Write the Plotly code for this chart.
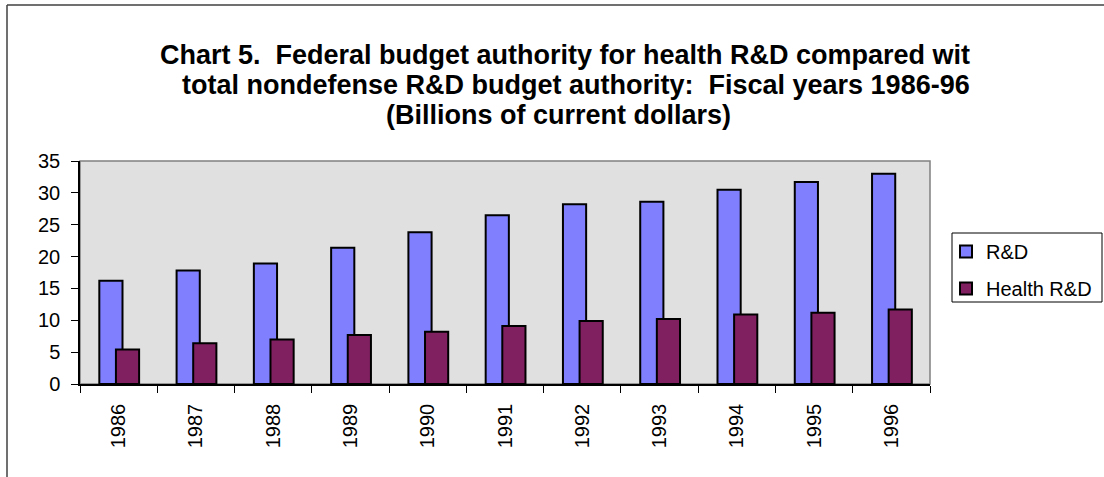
import plotly.graph_objects as go

years = ["1986", "1987", "1988", "1989", "1990", "1991",
         "1992", "1993", "1994", "1995", "1996"]
rd_total = [16.2, 17.8, 18.9, 21.4, 23.8, 26.5, 28.2, 28.6, 30.5, 31.7, 33.0]
rd_health = [5.4, 6.4, 7.0, 7.7, 8.2, 9.1, 9.9, 10.2, 10.9, 11.2, 11.7]

title_lines = [
    "Chart 5.  Federal budget authority for health R&D compared wit",
    "total nondefense R&D budget authority:  Fiscal years 1986-96",
    "(Billions of current dollars)",
]

FONT = "Liberation Sans, Arial, sans-serif"
W, H = 1104, 477
L, R, T, B = 80, 930, 161, 384   # plot-area edges in pixels


def px_x(p):
    return (p - L) / (R - L)


def px_y(p):
    return (B - p) / (B - T)


fig = go.Figure()
fig.add_trace(go.Bar(
    x=years, y=rd_total, name="R&D",
    width=0.3, offset=-0.25,
    marker=dict(color="#8080FF", line=dict(color="black", width=2)),
    legendgroup="a",
))
fig.add_trace(go.Bar(
    x=years, y=rd_health, name="Health R&D",
    width=0.3, offset=-0.035,
    marker=dict(color="#802060", line=dict(color="black", width=2)),
    legendgroup="b",
))

annotations = [
    dict(text="<b>" + title_lines[0] + "</b>", x=px_x(972), y=px_y(55),
         xanchor="right", yanchor="middle"),
    dict(text="<b>" + title_lines[1] + "</b>", x=px_x(972), y=px_y(85),
         xanchor="right", yanchor="middle"),
    dict(text="<b>" + title_lines[2] + "</b>", x=px_x(558), y=px_y(115),
         xanchor="center", yanchor="middle"),
]
for a in annotations:
    a.update(xref="paper", yref="paper", showarrow=False,
             font=dict(family=FONT, size=27, color="black"))

shapes = [
    # grey frame of the plot area
    dict(type="rect", xref="paper", yref="paper", x0=0, x1=1, y0=0, y1=1,
         line=dict(color="#808080", width=1.5), layer="below"),
    # legend frame
    dict(type="rect", xref="paper", yref="paper",
         x0=px_x(952), x1=px_x(1102), y0=px_y(302), y1=px_y(233),
         line=dict(color="black", width=1), fillcolor="white"),
    # outer chart border (top and left edges)
    dict(type="line", xref="paper", yref="paper",
         x0=px_x(7), x1=px_x(W + 5), y0=px_y(5), y1=px_y(5),
         line=dict(color="#404040", width=1.5)),
    dict(type="line", xref="paper", yref="paper",
         x0=px_x(7), x1=px_x(7), y0=px_y(5), y1=px_y(H + 5),
         line=dict(color="#404040", width=1.5)),
]

n = len(years)
fig.update_layout(
    width=W, height=H,
    margin=dict(l=L, r=W - R, t=T, b=H - B, autoexpand=False),
    paper_bgcolor="white", plot_bgcolor="#E0E0E0",
    barmode="overlay",
    font=dict(family=FONT, size=20, color="black"),
    showlegend=True,
    legend=dict(
        x=px_x(946), y=px_y(232), xanchor="left", yanchor="top",
        bgcolor="rgba(0,0,0,0)", borderwidth=0,
        font=dict(family=FONT, size=20, color="black"),
        traceorder="grouped", tracegroupgap=8,
    ),
    annotations=annotations,
    shapes=shapes,
    # companion axes carrying the inward half of the crossing tick marks
    xaxis2=dict(overlaying="x", anchor="y", side="bottom", range=[-0.5, n - 0.5],
                tickvals=[i - 0.5 for i in range(n + 1)], ticks="inside", ticklen=6,
                tickcolor="black", tickwidth=1, showticklabels=False,
                showgrid=False, zeroline=False, showline=False),
    yaxis2=dict(overlaying="y", anchor="x", side="left", range=[0, 35], dtick=5,
                ticks="inside", ticklen=6, tickcolor="black", tickwidth=1,
                showticklabels=False, showgrid=False, zeroline=False, showline=False),
)
fig.layout.xaxis.update(
    type="category", showline=True, linecolor="black", linewidth=1.5,
    ticks="outside", ticklen=7, tickcolor="black", tickwidth=1,
    tickson="boundaries", tickangle=-90, ticklabelstandoff=10,
    showgrid=False, zeroline=False, range=[-0.5, n - 0.5],
    tickfont=dict(family=FONT, size=20, color="black"),
)
fig.layout.yaxis.update(
    range=[0, 35], dtick=5, showline=True, linecolor="black", linewidth=1.5,
    ticks="outside", ticklen=7, tickcolor="black", tickwidth=1,
    showgrid=False, zeroline=False, ticklabelstandoff=7,
    tickfont=dict(family=FONT, size=20, color="black"),
)

fig.write_html("out.html")
